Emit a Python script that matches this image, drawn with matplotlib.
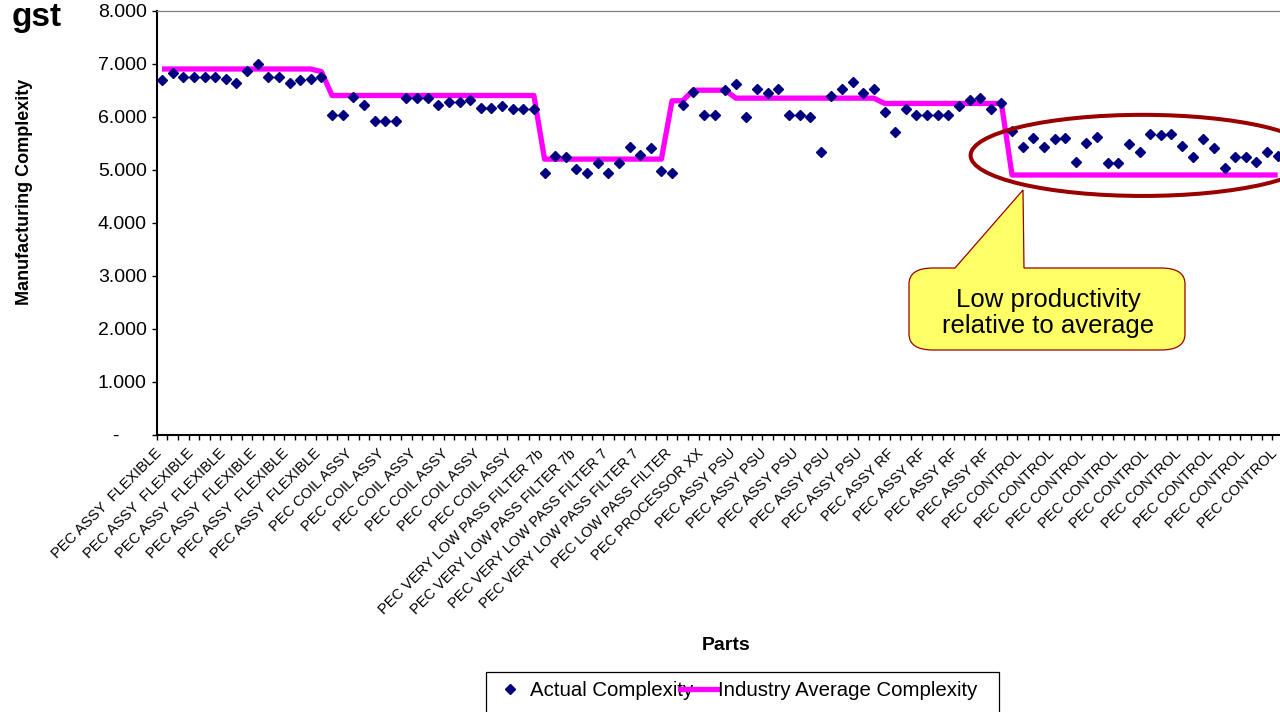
import numpy as np
import matplotlib
matplotlib.use('Agg')
import matplotlib.pyplot as plt
from matplotlib.patches import Ellipse, PathPatch, Rectangle
from matplotlib.path import Path
from matplotlib.lines import Line2D

plt.rcParams['font.family'] = ['Liberation Sans', 'DejaVu Sans']

# part groups (category names) and how many parts in each
groups = ['PEC ASSY  FLEXIBLE', 'PEC COIL ASSY', 'PEC VERY LOW PASS FILTER 7b',
          'PEC VERY LOW PASS FILTER 7', 'PEC LOW PASS FILTER', 'PEC PROCESSOR XX',
          'PEC ASSY PSU', 'PEC ASSY RF', 'PEC CONTROL']
group_sizes = [16, 20, 6, 6, 2, 4, 14, 12, 26]
parts = [g for g, n in zip(groups, group_sizes) for _ in range(n)]

actual = [6.69, 6.82, 6.75, 6.74, 6.75, 6.75, 6.71, 6.63, 6.86, 6.99,
          6.74, 6.74, 6.64, 6.70, 6.71, 6.74, 6.03, 6.03, 6.37, 6.23,
          5.91, 5.92, 5.92, 6.36, 6.36, 6.36, 6.23, 6.28, 6.28, 6.31,
          6.16, 6.16, 6.20, 6.15, 6.15, 6.14, 4.94, 5.26, 5.24, 5.02,
          4.93, 5.13, 4.93, 5.13, 5.42, 5.27, 5.40, 4.98, 4.93, 6.23,
          6.47, 6.03, 6.03, 6.50, 6.62, 6.00, 6.52, 6.45, 6.53, 6.03,
          6.04, 6.00, 5.33, 6.39, 6.52, 6.66, 6.45, 6.52, 6.09, 5.72,
          6.14, 6.03, 6.03, 6.03, 6.03, 6.20, 6.31, 6.35, 6.14, 6.25,
          5.73, 5.43, 5.59, 5.43, 5.57, 5.59, 5.15, 5.51, 5.62, 5.12,
          5.13, 5.48, 5.34, 5.67, 5.65, 5.67, 5.44, 5.24, 5.57, 5.40,
          5.04, 5.24, 5.24, 5.15, 5.33, 5.25]

industry = ([6.9] * 15 + [6.85] + [6.4] * 20 + [5.2] * 12 + [6.3] * 2 +
            [6.5] * 4 + [6.35] * 14 + [6.25] * 12 + [4.9] * 26)

y_ticks = [0, 1, 2, 3, 4, 5, 6, 7, 8]
label_every = 3

W, H = 1280, 712
fig = plt.figure(figsize=(W / 100, H / 100), dpi=100)

def fp(x, y):
    return (x / W, 1 - y / H)

ax = fig.add_axes([156.7 / W, 1 - 434.7 / H, 1126.3 / W, 424.0 / H])
x = np.arange(len(parts))

ax.plot(x, industry, color='#FF00FF', lw=3.8, zorder=2, solid_capstyle='butt')
ax.plot(x, actual, ls='none', marker='D', ms=5.4, color='#000080',
        mec='#000080', zorder=3)

ax.set_xlim(-0.5, len(parts) - 0.5)
ax.set_ylim(0, 8)

ax.set_yticks(y_ticks)
ax.set_yticklabels(['-     ' if v == 0 else f'{v:.3f}' for v in y_ticks])
ax.tick_params(axis='y', direction='out', length=3.6, width=1, pad=3.6,
               labelsize=14, color='black')

lab_pos = x[::label_every]
ax.set_xticks(lab_pos)
ax.set_xticklabels([parts[i] for i in lab_pos], rotation=45, ha='right',
                   va='baseline', rotation_mode='anchor', fontsize=10.5)
ax.set_xticks(np.arange(-0.5, len(parts)), minor=True)
ax.tick_params(axis='x', which='major', length=0, pad=14)
ax.tick_params(axis='x', which='minor', direction='out', length=3.6, width=1,
               color='black')

ax.spines['right'].set_visible(False)
ax.spines['top'].set_color('#808080')
ax.spines['top'].set_linewidth(0.9)
ax.spines['left'].set_linewidth(1.5)
ax.spines['bottom'].set_linewidth(1.5)

fig.text(*fp(25, 192), 'Manufacturing Complexity', rotation=90, ha='center',
         va='center', fontsize=13, fontweight='bold')
fig.text(*fp(726, 645), 'Parts', ha='center', va='center', fontsize=14,
         fontweight='bold')
fig.text(*fp(62, 2), 'gst', ha='right', va='top', fontsize=24,
         fontweight='bold')

# highlight ellipse
ax.add_patch(Ellipse((92.3, 5.27), 32.4, 1.53, fill=False, ec='#990000',
                     lw=2.9, zorder=4, clip_on=False))

# callout
L, R, T, B, rx, ry = 909, 1185, 268, 350, 24, 16
verts = [(955, T), (1023, 190), (1024, T), (R - rx, T), (R, T), (R, T + ry),
         (R, B - ry), (R, B), (R - rx, B), (L + rx, B), (L, B), (L, B - ry),
         (L, T + ry), (L, T), (L + rx, T), (955, T)]
codes = [Path.MOVETO, Path.LINETO, Path.LINETO, Path.LINETO, Path.CURVE3,
         Path.CURVE3, Path.LINETO, Path.CURVE3, Path.CURVE3, Path.LINETO,
         Path.CURVE3, Path.CURVE3, Path.LINETO, Path.CURVE3, Path.CURVE3,
         Path.CLOSEPOLY]
callout = PathPatch(Path([fp(*v) for v in verts], codes), fc='#FFFF66',
                    ec='#990000', lw=0.9, transform=fig.transFigure)
fig.add_artist(callout)
fig.text(*fp(1048, 313), 'Low productivity\nrelative to average', ha='center',
         va='center', fontsize=18.5, linespacing=1.15, multialignment='center')

# legend
handles = [Line2D([], [], ls='none', marker='D', ms=5, color='#000080'),
           Line2D([], [], color='#FF00FF', lw=3.8)]
fig.legend(handles, ['Actual Complexity', 'Industry Average Complexity'],
           loc='center left', bbox_to_anchor=fp(492, 691), ncol=2,
           frameon=False, fontsize=14.7, handlelength=1.8, handletextpad=0.05,
           columnspacing=-0.65, borderpad=0, borderaxespad=0)
fig.add_artist(Rectangle(fp(486, 730), 513 / W, 58 / H, fill=False, ec='black',
                         lw=0.9, transform=fig.transFigure))

fig.savefig('out.png', dpi=100)
